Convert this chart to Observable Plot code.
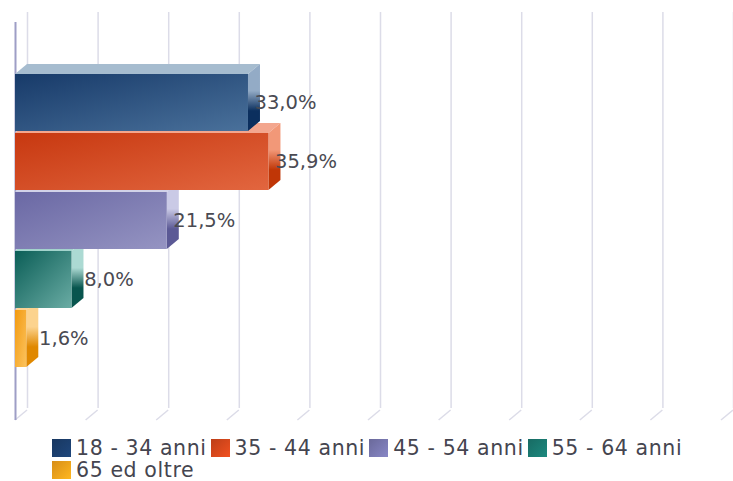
<!DOCTYPE html>
<html>
<head>
<meta charset="utf-8">
<script src="https://cdn.jsdelivr.net/npm/d3@7"></script>
<script src="https://cdn.jsdelivr.net/npm/@observablehq/plot@0.6"></script>
<style>
  html, body { margin: 0; padding: 0; background: #fff; }
  #chart { width: 733px; height: 481px; overflow: hidden; font-family: "DejaVu Sans", sans-serif; }
  #legend { display: flex; flex-wrap: wrap; padding-left: 52px; width: 670px; margin-top: 7px; }
  .item { display: flex; align-items: center; height: 22px; margin-right: 4px; font-size: 20.5px; line-height: 22px; letter-spacing: 0.6px; color: #45454f; white-space: nowrap; }
  .sw { width: 19px; height: 18px; margin-right: 5px; }
</style>
</head>
<body>
<div id="chart"></div>
<script>
// ---- data ----
const categories = ["18 - 34 anni", "35 - 44 anni", "45 - 54 anni", "55 - 64 anni", "65 ed oltre"];
const values = [33.0, 35.9, 21.5, 8.0, 1.6];
const valueLabels = ["33,0%", "35,9%", "21,5%", "8,0%", "1,6%"];
const gridTicks = [0, 10, 20, 30, 40, 50, 60, 70, 80, 90, 100];

// ---- palette (front dark/light, top, side light/dark, legend) ----
const frontDark  = ["#173a69", "#c73810", "#6a68a4", "#0b5e57", "#f29a10"];
const frontLight = ["#4a719b", "#e2663f", "#9594c2", "#6aaca4", "#fcc35e"];
const topColor   = ["#a6bccf", "#f3a68e", "#d2d2e8", "#a2d3cc", "#fdd291"];
const sideLight  = ["#93abc6", "#f29878", "#cacae6", "#acdad3", "#fcd38e"];
const sideDark   = ["#0b2f5e", "#c03606", "#5b5995", "#08554e", "#e08800"];
const legendColor = ["#1c406f", "#d9491d", "#7a79b2", "#1a7b72", "#f8a41d"];

const rows = categories.map((c, i) => ({cat: c, value: values[i], label: valueLabels[i], i}));
const DX = 12, DY = -10;

function bw(s) { return typeof s.bandwidth === "function" ? s.bandwidth() : s.bandwidth; }

// floor slants of the 3D grid
const floorMark = (index, scales, vals, dims) => {
  const g = d3.create("svg:g");
  const yb = dims.height - dims.marginBottom;
  for (const t of gridTicks) {
    const x = scales.x(t);
    g.append("line").attr("x1", x).attr("y1", yb).attr("x2", x + DX).attr("y2", yb + DY)
      .attr("stroke", "#dcdce8").attr("stroke-width", 1.5);
  }
  return g.node();
};

// top faces (drawn bottom bar first)
const topMark = (index, scales) => {
  const g = d3.create("svg:g");
  for (const r of rows.slice().reverse()) {
    const x0 = scales.x(0), x1 = scales.x(r.value), y0 = scales.y(r.cat);
    g.append("polygon")
      .attr("points", [[x0, y0], [x0 + DX, y0 + DY], [x1 + DX, y0 + DY], [x1, y0]].map(p => p.join(",")).join(" "))
      .attr("fill", topColor[r.i]);
  }
  return g.node();
};

// side faces
const sideMark = (index, scales) => {
  const g = d3.create("svg:g");
  const h = bw(scales.y);
  for (const r of rows.slice().reverse()) {
    const x1 = scales.x(r.value), y0 = scales.y(r.cat), y1 = y0 + h;
    g.append("polygon")
      .attr("points", [[x1, y0], [x1 + DX, y0 + DY], [x1 + DX, y1 + DY], [x1, y1]].map(p => p.join(",")).join(" "))
      .attr("fill", `url(#side${r.i})`);
  }
  return g.node();
};

const chart = Plot.plot({
  width: 733,
  height: 430,
  marginLeft: 15,
  marginRight: 12,
  marginTop: 22,
  marginBottom: 10,
  style: {fontFamily: "DejaVu Sans, sans-serif", background: "white"},
  x: {domain: [0, 100], axis: null},
  y: {domain: categories, axis: null, paddingInner: 0.03, paddingOuter: 0.865},
  color: {type: "identity"},
  marks: [
    Plot.ruleX(gridTicks, {stroke: "#dcdce8", strokeWidth: 1.5, dx: DX, dy: DY, insetBottom: 2}),
    floorMark,
    Plot.ruleX([0], {stroke: "#9e9ec6", strokeWidth: 2}),
    topMark,
    sideMark,
    Plot.barX(rows, {x: "value", y: "cat", fill: d => `url(#front${d.i})`}),
    Plot.text(rows, {x: "value", y: "cat", text: "label", dx: 37, fontSize: 19.5, fill: "#4a4a52", textAnchor: "middle"})
  ]
});

// gradients
const svg = d3.select(chart);
const defs = svg.insert("defs", ":first-child");
rows.forEach(r => {
  const f = defs.append("linearGradient").attr("id", `front${r.i}`)
    .attr("x1", 0).attr("y1", 0).attr("x2", 1).attr("y2", 1);
  f.append("stop").attr("offset", 0).attr("stop-color", frontDark[r.i]);
  f.append("stop").attr("offset", 1).attr("stop-color", frontLight[r.i]);
  const s = defs.append("linearGradient").attr("id", `side${r.i}`)
    .attr("x1", 0).attr("y1", 0).attr("x2", 0).attr("y2", 1);
  s.append("stop").attr("offset", 0).attr("stop-color", sideLight[r.i]);
  s.append("stop").attr("offset", 0.4).attr("stop-color", sideLight[r.i]);
  s.append("stop").attr("offset", 0.7).attr("stop-color", sideDark[r.i]);
  s.append("stop").attr("offset", 1).attr("stop-color", sideDark[r.i]);
});

const root = document.getElementById("chart");
root.appendChild(chart);

// legend
const legend = d3.select(root).append("div").attr("id", "legend");
categories.forEach((c, i) => {
  const it = legend.append("div").attr("class", "item");
  it.append("div").attr("class", "sw")
    .style("background", `linear-gradient(135deg, ${d3.color(legendColor[i]).darker(0.4)}, ${d3.color(legendColor[i]).brighter(0.3)})`);
  it.append("span").text(c);
});
</script>
</body>
</html>
